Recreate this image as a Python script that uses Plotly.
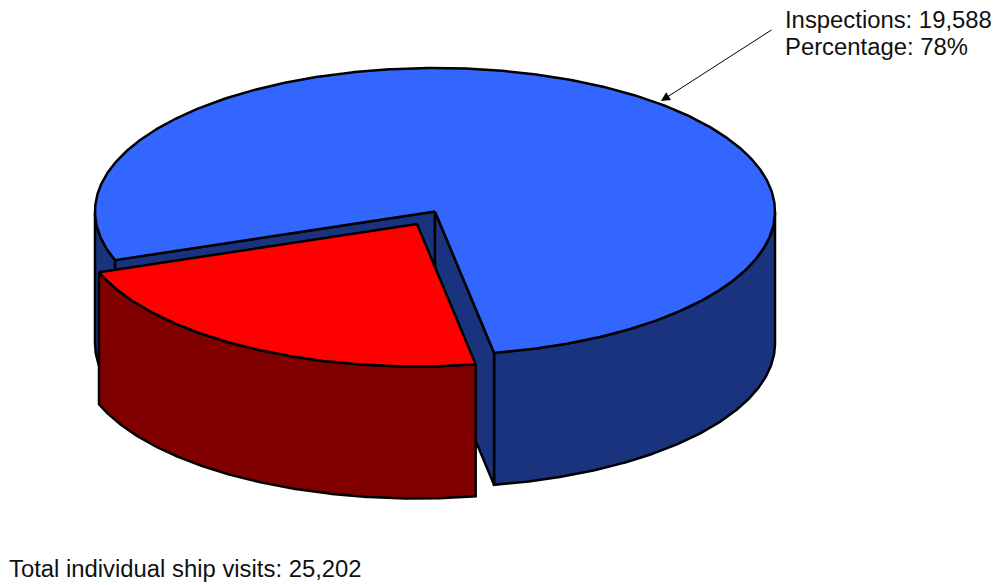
import numpy as np
import plotly.graph_objects as go

labels = ["Inspections", "Other visits"]
values = [19588, 5614]
total_label = "Total individual ship visits"

BLUE, BLUE_DARK = "#3366FF", "#19337F"
RED, RED_DARK = "#FF0000", "#800000"
CX, CY, RX, RY, DEPTH = 435.0, 211.5, 340.0, 143.5, 132.0
EXPLODE_X, EXPLODE_Y = -18.0, 12.5
RED_RX, RED_RY = 338.0, 142.5
START_DEG = 80.0

total = sum(values)
red_end = START_DEG + 360.0 * values[1] / total


def arc(a0, a1, dx=0.0, dy=0.0, rx=RX, ry=RY):
    t = np.radians(np.linspace(a0, a1, max(2, int(abs(a1 - a0) * 2) + 1)))
    return CX + dx + rx * np.cos(t), CY + dy + ry * np.sin(t)


def wall(a0, a1, dx=0.0, dy=0.0, rx=RX, ry=RY):
    x, y = arc(a0, a1, dx, dy, rx, ry)
    return np.r_[x, x[::-1], x[0]], np.r_[y, y[::-1] + DEPTH, y[0]]


def cut(a):
    x, y = arc(a, a)
    return [CX, x[0], x[0], CX, CX], [CY, y[0], y[0] + DEPTH, CY + DEPTH, CY]


def sector(a0, a1, dx=0.0, dy=0.0, rx=RX, ry=RY):
    x, y = arc(a0, a1, dx, dy, rx, ry)
    px, py = CX + dx, CY + dy
    return np.r_[px, x, px], np.r_[py, y, py]


faces = [
    (wall(red_end, 180), BLUE_DARK),
    (wall(0, START_DEG), BLUE_DARK),
    (cut(red_end), BLUE_DARK),
    (cut(START_DEG), BLUE_DARK),
    (sector(red_end, START_DEG + 360), BLUE),
    (wall(START_DEG, red_end, EXPLODE_X, EXPLODE_Y, RED_RX, RED_RY), RED_DARK),
    (sector(START_DEG, red_end, EXPLODE_X, EXPLODE_Y, RED_RX, RED_RY), RED),
]

fig = go.Figure()
for (x, y), color in faces:
    fig.add_trace(go.Scatter(
        x=x, y=y, mode="lines", fill="toself", fillcolor=color,
        line=dict(color="black", width=2.5), hoverinfo="skip", showlegend=False,
    ))

font = dict(family="Liberation Sans, Arial, sans-serif", size=23.85, color="#111111")
notes = [
    (783, 19, f"{labels[0]}: {values[0]:,}"),
    (783, 46, f"Percentage: {round(100 * values[0] / total)}%"),
    (7, 568, f"{total_label}: {total:,}"),
]
for x, y, text in notes:
    fig.add_annotation(x=x, y=y, text=text, showarrow=False, xanchor="left",
                       yanchor="middle", font=font)
fig.add_annotation(x=661, y=101, ax=773, ay=29, axref="x", ayref="y", text="",
                   showarrow=True, arrowhead=2, arrowsize=1.8, arrowwidth=1,
                   arrowcolor="black")

fig.update_layout(
    width=1001, height=585, margin=dict(l=0, r=0, t=0, b=0),
    paper_bgcolor="white", plot_bgcolor="white",
    xaxis=dict(range=[0, 1001], visible=False, fixedrange=True),
    yaxis=dict(range=[585, 0], visible=False, fixedrange=True),
)
fig.write_html("out.html", config={"displayModeBar": False},
               post_script="document.body.style.margin='0';document.body.style.overflow='hidden';")
